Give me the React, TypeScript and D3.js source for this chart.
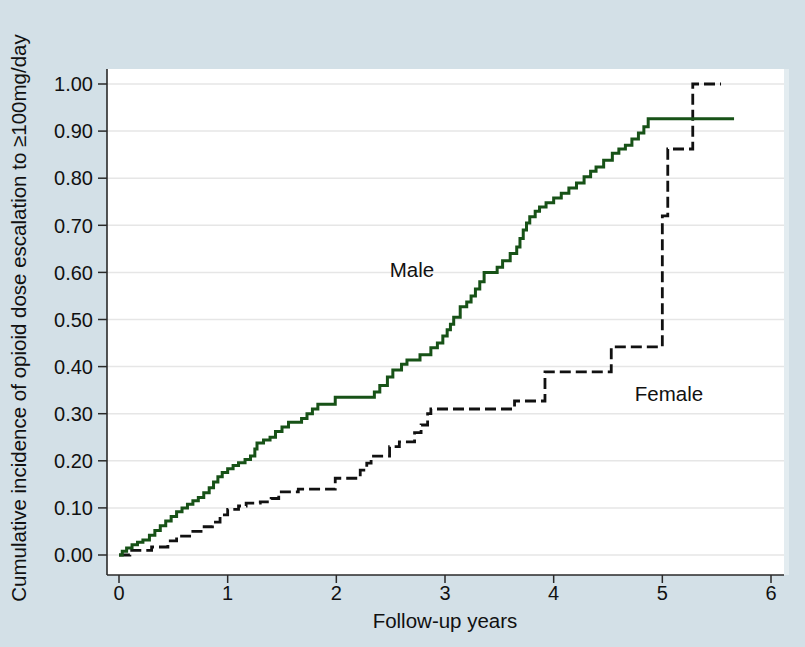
import React from "react";
import * as d3 from "d3";

const maleTime = [0, 0.03, 0.07, 0.12, 0.17, 0.22, 0.28, 0.33, 0.38, 0.43, 0.48, 0.53, 0.58, 0.63, 0.68, 0.73, 0.78, 0.83, 0.87, 0.91, 0.95, 1.0, 1.05, 1.1, 1.16, 1.21, 1.25, 1.27, 1.33, 1.39, 1.44, 1.5, 1.56, 1.68, 1.73, 1.78, 1.83, 1.99, 2.35, 2.4, 2.47, 2.52, 2.6, 2.65, 2.77, 2.87, 2.93, 2.98, 3.02, 3.05, 3.08, 3.14, 3.2, 3.24, 3.28, 3.32, 3.36, 3.48, 3.53, 3.6, 3.66, 3.69, 3.72, 3.75, 3.78, 3.83, 3.87, 3.93, 4.0, 4.07, 4.14, 4.21, 4.28, 4.34, 4.39, 4.46, 4.54, 4.6, 4.66, 4.72, 4.78, 4.83, 4.87, 5.66];
const maleValue = [0, 0.008, 0.015, 0.022, 0.027, 0.032, 0.042, 0.052, 0.062, 0.072, 0.082, 0.092, 0.1, 0.108, 0.115, 0.122, 0.132, 0.143, 0.155, 0.166, 0.175, 0.183, 0.19, 0.196, 0.203, 0.21, 0.225, 0.238, 0.244, 0.25, 0.262, 0.272, 0.282, 0.29, 0.3, 0.31, 0.32, 0.335, 0.346, 0.36, 0.378, 0.393, 0.405, 0.414, 0.425, 0.44, 0.45, 0.465, 0.478, 0.49, 0.505, 0.527, 0.537, 0.55, 0.565, 0.58, 0.6, 0.611, 0.625, 0.64, 0.654, 0.672, 0.69, 0.705, 0.718, 0.73, 0.739, 0.748, 0.758, 0.768, 0.779, 0.79, 0.803, 0.815, 0.824, 0.838, 0.853, 0.862, 0.87, 0.883, 0.896, 0.909, 0.926, 0.926];

const femaleTime = [0, 0.1, 0.3, 0.45, 0.53, 0.65, 0.77, 0.86, 0.93, 1.0, 1.1, 1.17, 1.3, 1.4, 1.47, 1.65, 1.99, 2.22, 2.28, 2.32, 2.49, 2.58, 2.72, 2.78, 2.84, 2.87, 3.64, 3.92, 4.53, 5.0, 5.05, 5.28, 5.54];
const femaleValue = [0, 0.01, 0.017, 0.03, 0.04, 0.05, 0.06, 0.07, 0.085, 0.097, 0.104, 0.11, 0.113, 0.12, 0.134, 0.14, 0.163, 0.18, 0.195, 0.21, 0.23, 0.24, 0.26, 0.276, 0.3, 0.31, 0.327, 0.389, 0.442, 0.72, 0.862, 1.0, 1.0];

const xTicks = [0, 1, 2, 3, 4, 5, 6];
const yTicks = [0, 0.1, 0.2, 0.3, 0.4, 0.5, 0.6, 0.7, 0.8, 0.9, 1.0];

const W = 805;
const H = 647;
const plotLeft = 107;
const plotRight = 784;
const plotTop = 69;
const plotBottom = 575;
const FONT = "'Liberation Sans', Arial, sans-serif";

export default function App() {
  const x = d3.scaleLinear().domain([0, 6]).range([119, 771]);
  const y = d3.scaleLinear().domain([0, 1]).range([555, 84]);
  const line = d3
    .line<[number, number]>()
    .x((d) => x(d[0]))
    .y((d) => y(d[1]))
    .curve(d3.curveStepAfter);
  const male: [number, number][] = maleTime.map((t, i) => [t, maleValue[i]]);
  const female: [number, number][] = femaleTime.map((t, i) => [t, femaleValue[i]]);

  return (
    <svg
      width={W}
      height={H}
      style={{ position: "absolute", left: 0, top: 0, display: "block" }}
      fontFamily={FONT}
    >
      <rect x={0} y={0} width={W} height={H} fill="#d3e0e7" />
      <rect x={plotRight} y={plotTop} width={5} height={plotBottom - plotTop} fill="#e3ecf0" />
      <rect x={plotLeft} y={plotTop} width={plotRight - plotLeft} height={plotBottom - plotTop} fill="#ffffff" />
      {yTicks.map((v) => (
        <line key={"g" + v} x1={plotLeft} x2={plotRight} y1={y(v)} y2={y(v)} stroke="#e6e6e6" strokeWidth={1.5} />
      ))}
      <line x1={plotLeft} x2={plotLeft} y1={plotTop} y2={plotBottom} stroke="#2a2a2a" strokeWidth={1.6} />
      <line x1={plotLeft} x2={plotRight} y1={plotBottom} y2={plotBottom} stroke="#2a2a2a" strokeWidth={1.6} />
      {yTicks.map((v) => (
        <g key={"y" + v}>
          <line x1={plotLeft - 9} x2={plotLeft} y1={y(v)} y2={y(v)} stroke="#2a2a2a" strokeWidth={1.5} />
          <text x={plotLeft - 14} y={y(v)} dy="0.36em" textAnchor="end" fontSize={20} fill="#111">
            {v.toFixed(2)}
          </text>
        </g>
      ))}
      {xTicks.map((v) => (
        <g key={"x" + v}>
          <line x1={x(v)} x2={x(v)} y1={plotBottom} y2={plotBottom + 8} stroke="#2a2a2a" strokeWidth={1.5} />
          <text x={x(v)} y={600} textAnchor="middle" fontSize={20} fill="#111">
            {v}
          </text>
        </g>
      ))}
      <text x={445} y={628} textAnchor="middle" fontSize={20.5} fill="#111">
        Follow-up years
      </text>
      <text
        transform={`translate(26, 318) rotate(-90)`}
        textAnchor="middle"
        fontSize={20.5}
        fill="#111"
      >
        Cumulative incidence of opioid dose escalation to ≥100mg/day
      </text>
      <path d={line(female) || ""} fill="none" stroke="#111" strokeWidth={2.8} strokeDasharray="11,5" />
      <path d={line(male) || ""} fill="none" stroke="#175217" strokeWidth={3} />
      <text x={412} y={277} textAnchor="middle" fontSize={20.5} fill="#111">
        Male
      </text>
      <text x={669} y={401} textAnchor="middle" fontSize={20.5} fill="#111">
        Female
      </text>
    </svg>
  );
}
